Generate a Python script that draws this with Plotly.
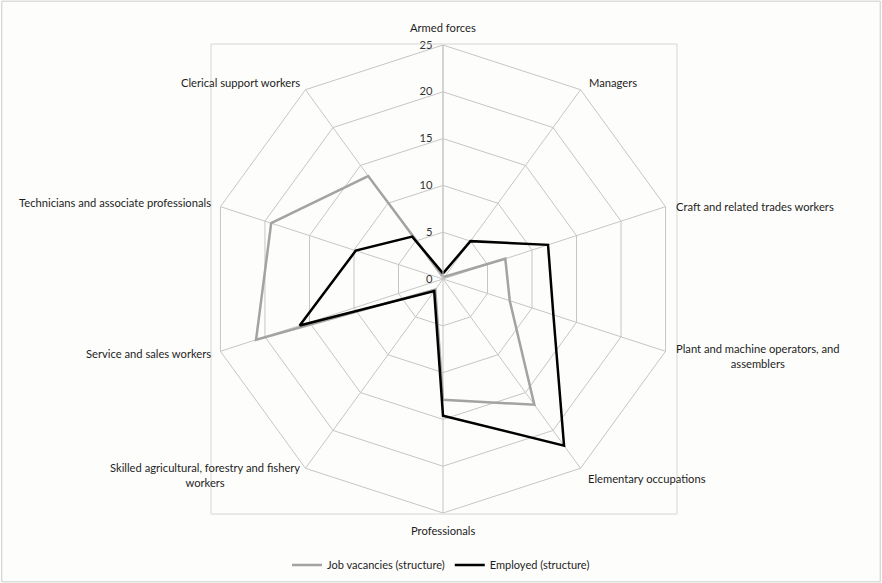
import plotly.graph_objects as go

categories = [
    "Armed forces",
    "Managers",
    "Craft and related trades workers",
    "Plant and machine operators, and<br>assemblers",
    "Elementary occupations",
    "Professionals",
    "Skilled agricultural, forestry and fishery<br>workers",
    "Service and sales workers",
    "Technicians and associate professionals",
    "Clerical support workers",
]
job_vacancies = [0.3, 0.3, 7.0, 7.5, 16.6, 12.9, 1.4, 21.0, 19.3, 13.6]
employed = [0.6, 5.0, 11.8, 12.4, 22.0, 14.6, 1.6, 16.1, 9.8, 5.6]
radial_ticks = [0, 5, 10, 15, 20, 25]

W, H = 882, 583
cx, cy, R = 443, 279, 234

# label placement (pixel anchor, xanchor) for each category label
label_layout = [
    (443, 27, "center"),
    (587, 82, "left"),
    (674, 206, "left"),
    (674, 356, "left"),
    (586, 478, "left"),
    (443, 530, "center"),
    (302, 475, "right"),
    (213, 353, "right"),
    (213, 203, "right"),
    (302, 82, "right"),
]

fig = go.Figure()
fig.add_trace(go.Scatterpolar(
    r=job_vacancies + job_vacancies[:1], theta=categories + categories[:1],
    mode="lines", name="Job vacancies (structure)",
    line=dict(color="#a3a3a3", width=2.5),
))
fig.add_trace(go.Scatterpolar(
    r=employed + employed[:1], theta=categories + categories[:1],
    mode="lines", name="Employed (structure)",
    line=dict(color="#000000", width=2.5),
))

annotations = []
for cat, (px, py, xa) in zip(categories, label_layout):
    annotations.append(dict(
        text=cat, xref="paper", yref="paper",
        x=px / W, y=(H - py) / H, xanchor=xa, yanchor="middle",
        align="center", showarrow=False,
        font=dict(size=11.2, color="#1e1e1e"),
    ))

grid = "#c6c6c6"
fig.update_layout(
    width=W, height=H,
    margin=dict(l=0, r=0, t=0, b=0),
    paper_bgcolor="#fdfdfb",
    font=dict(family="Lato, Open Sans, sans-serif", size=11, color="#1e1e1e"),
    polar=dict(
        domain=dict(x=[(cx - R) / W, (cx + R) / W], y=[(H - cy - R) / H, (H - cy + R) / H]),
        bgcolor="rgba(0,0,0,0)",
        gridshape="linear",
        angularaxis=dict(
            direction="clockwise", rotation=90,
            categoryorder="array", categoryarray=categories,
            showline=True, linecolor=grid, linewidth=1,
            gridcolor=grid, gridwidth=1,
            ticks="", showticklabels=False,
        ),
        radialaxis=dict(
            range=[0, 25], tickvals=radial_ticks, ticktext=[str(v) for v in radial_ticks],
            angle=90, tickangle=90, side="counterclockwise",
            showline=True, linecolor=grid, linewidth=1,
            gridcolor=grid, gridwidth=1,
            ticks="outside", ticklen=6, tickcolor="rgba(0,0,0,0)",
            tickfont=dict(size=11.2, color="#333333"),
        ),
    ),
    legend=dict(
        orientation="h", x=0.5, xanchor="center", y=(H - 565) / H, yanchor="middle",
        font=dict(size=11), bgcolor="rgba(0,0,0,0)",
    ),
    showlegend=True,
    annotations=annotations,
    shapes=[
        dict(type="rect", xref="paper", yref="paper",
             x0=211 / W, x1=677 / W, y0=(H - 514) / H, y1=(H - 44) / H,
             line=dict(color="#d6d6d6", width=1)),
        dict(type="rect", xref="paper", yref="paper",
             x0=0.002, x1=0.998, y0=0.002, y1=0.998,
             line=dict(color="#cccccc", width=1)),
    ],
)

fig.write_html("out.html", config={"displayModeBar": False},
               post_script="document.body.style.margin='0';")
